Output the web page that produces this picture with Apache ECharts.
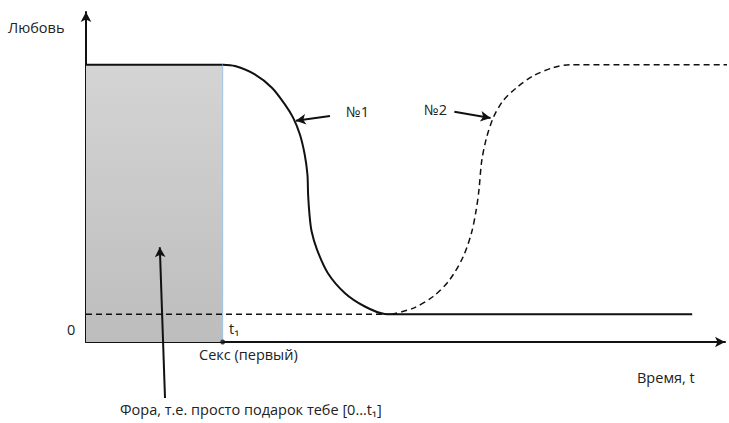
<!DOCTYPE html>
<html>
<head>
<meta charset="utf-8">
<script src="https://cdn.jsdelivr.net/npm/echarts@6.0.0/dist/echarts.min.js"></script>
<style>
  html, body { margin: 0; padding: 0; background: #fff; }
  #chart { width: 729px; height: 423px; }
</style>
</head>
<body>
<div id="chart"></div>
<script>
// время (t) и любовь, условные единицы; t1 = 20
const t1 = 20;
const levelHigh = 100;
const levelLow = 10;

// кривая №1 (сплошная) — от t1 вниз
const curve1T    = [20, 21.8, 24.7, 27.2, 29.1, 30.3, 31.3, 32.0, 32.4, 32.5, 32.7, 33.0, 33.8, 35.4, 37.9, 40.8, 43.7, 44.7, 88.7];
const curve1Love = [100, 99.5, 96.5, 91.7, 85.7, 80.9, 74.8, 67.6, 60.4, 53.1, 46, 40, 33.3, 24.8, 17.6, 12.8, 10.1, 10, 10];

// кривая №2 (пунктир) — обратно вверх
const curve2T    = [44.7, 47.9, 50.8, 53.2, 55.2, 56.4, 57.1, 57.5, 57.9, 58.6, 59.6, 61.0, 63.0, 65.4, 68.3, 70.8, 94];
const curve2Love = [10, 12.2, 16.4, 22.4, 30.8, 39.3, 47.7, 54.9, 65.2, 73.6, 80.9, 86.9, 91.7, 95.9, 98.9, 100, 100];

// фора [0...t1]
const foraT    = [0, t1];
const foraLove = [levelHigh, levelHigh];

// пунктир нижнего уровня
const baseT    = [0, 44.7];
const baseLove = [levelLow, levelLow];

function pairs(xs, ys) {
  return xs.map((x, i) => [x, ys[i]]);
}

const chart = echarts.init(document.getElementById('chart'), null, { renderer: 'svg' });

const textStyle = { fill: '#222', fontFamily: 'Open Sans, Noto Sans, sans-serif', fontSize: 14.5 };
function txt(left, top, text) {
  return { type: 'text', left: left, top: top, style: Object.assign({ text: text }, textStyle) };
}

const arrowLine = {
  symbol: ['none', 'arrow'],
  symbolSize: [8, 10],
  silent: true,
  label: { show: false },
  lineStyle: { color: '#111', width: 2, type: 'solid' }
};

chart.setOption({
  animation: false,
  grid: { left: 86, right: 4, top: 12, bottom: 81 },
  xAxis: {
    type: 'value',
    min: 0,
    max: 93.5,
    axisLine: {
      show: true,
      symbol: ['none', 'arrow'],
      symbolSize: [8, 10],
      lineStyle: { color: '#111', width: 2 }
    },
    axisTick: { show: false },
    axisLabel: { show: false },
    splitLine: { show: false }
  },
  yAxis: {
    type: 'value',
    min: 0,
    max: 119,
    axisLine: {
      show: true,
      symbol: ['none', 'arrow'],
      symbolSize: [8, 10],
      lineStyle: { color: '#111', width: 2 }
    },
    axisTick: { show: false },
    axisLabel: { show: false },
    splitLine: { show: false }
  },
  series: [
    {
      name: 'Фора',
      type: 'line',
      data: pairs(foraT, foraLove),
      showSymbol: false,
      lineStyle: { color: '#111', width: 2 },
      areaStyle: {
        origin: 'start',
        opacity: 1,
        color: new echarts.graphic.LinearGradient(0, 0, 0, 1, [
          { offset: 0, color: '#d4d4d4' },
          { offset: 1, color: '#bdbdbd' }
        ])
      },
      clip: false,
      // стрелка от подписи "Фора" (начало под осью — в пикселях)
      markLine: Object.assign({}, arrowLine, {
        data: [[{ x: 165, y: 398 }, { coord: [10.8, 34.2] }]]
      }),
      z: 1
    },
    {
      // правая граница форы
      type: 'line',
      data: pairs([t1, t1], [0, levelHigh]),
      showSymbol: false,
      lineStyle: { color: '#9dc3e6', width: 1 },
      z: 2
    },
    {
      name: 'base',
      type: 'line',
      data: pairs(baseT, baseLove),
      showSymbol: false,
      lineStyle: { color: '#111', width: 1.3, type: [6, 4] },
      z: 3
    },
    {
      name: '№1',
      type: 'line',
      data: pairs(curve1T, curve1Love),
      smooth: 0.3,
      showSymbol: false,
      lineStyle: { color: '#111', width: 2 },
      clip: false,
      markLine: Object.assign({}, arrowLine, {
        data: [[{ coord: [35.7, 81.5] }, { coord: [30.7, 79.8] }]]
      }),
      z: 4
    },
    {
      name: '№2',
      type: 'line',
      data: pairs(curve2T, curve2Love),
      smooth: 0.3,
      showSymbol: false,
      lineStyle: { color: '#111', width: 1.5, type: [6, 4] },
      clip: false,
      markLine: Object.assign({}, arrowLine, {
        data: [[{ coord: [53.9, 83.0] }, { coord: [59.2, 80.8] }]]
      }),
      z: 4
    },
    {
      // точка t1 на оси
      type: 'scatter',
      data: [[t1, 0]],
      symbolSize: 5,
      itemStyle: { color: '#111' },
      clip: false,
      z: 5
    }
  ],
  graphic: [
    txt(8, 20, 'Любовь'),
    txt(67, 322, '0'),
    txt(229, 321, 't₁'),
    txt(199, 347, 'Секс (первый)'),
    txt(637, 370, 'Время, t'),
    txt(346, 104, '№1'),
    txt(424, 102, '№2'),
    txt(120, 402, 'Фора, т.е. просто подарок тебе [0…t₁]')
  ]
});
</script>
</body>
</html>
